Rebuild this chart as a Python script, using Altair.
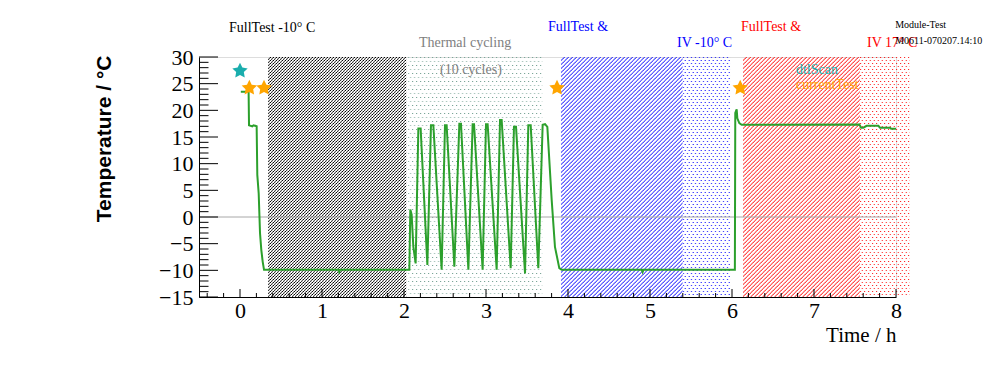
import math
import base64
import altair as alt
import pandas as pd

# ---------------- data ----------------
# green temperature trace (time in hours, temperature in deg C)
time_h = [0.01, 0.105, 0.11, 0.150, 0.165, 0.203, 0.211, 0.228, 0.244, 0.260, 0.277, 0.293,
          1.20, 1.21, 1.22, 2.065,
          2.077, 2.093, 2.114, 2.142,
          2.175, 2.203, 2.285,
          2.329, 2.358, 2.459,
          2.500, 2.520, 2.614,
          2.675, 2.695, 2.785,
          2.837, 2.854, 2.959,
          3.000, 3.020, 3.130,
          3.171, 3.191, 3.301,
          3.341, 3.366, 3.476,
          3.516, 3.545, 3.638,
          3.691, 3.720, 3.748, 3.801, 3.841, 3.894, 3.923,
          4.90, 4.91, 4.92, 6.035,
          6.040, 6.057, 6.065, 6.089, 6.118,
          7.553, 7.575, 7.602, 7.642, 7.785, 7.805, 7.927, 7.940, 8.0]
temp_c = [23.5, 23.5, 17.2, 17.0, 17.2, 17.0, 7.9, 4.4, -3.0, -6.2, -8.4, -9.9,
          -9.9, -10.3, -9.9, -9.9,
          1.4, 0.5, -5.6, -8.7,
          16.6, 16.6, -9.0,
          17.2, 17.2, -9.9,
          17.2, 17.2, -9.3,
          17.5, 17.5, -9.9,
          17.4, 17.4, -9.9,
          17.4, 17.4, -9.9,
          18.2, 18.2, -9.6,
          16.9, 16.9, -10.6,
          17.2, 17.2, -9.6,
          17.3, 17.4, 16.9, 3.2, -5.6, -9.6, -9.9,
          -9.9, -10.3, -9.9, -9.9,
          19.5, 20.2, 18.5, 17.6, 17.3,
          17.35, 16.75, 16.75, 17.1, 17.1, 16.75, 16.75, 16.55, 16.55]

# test markers (stars)
star_time = [0.0, 0.114, 0.293, 3.866, 6.10]
star_temp = [27.4, 24.2, 24.2, 24.2, 24.2]
star_test = ["dtlScan", "currentTest", "currentTest", "currentTest", "currentTest"]

# shaded phases (hours)
phase_name = ["FullTest -10", "Thermal cycling", "FullTest IV -10", "IV -10 tail", "FullTest IV 17", "IV 17 tail"]
phase_start = [0.34, 2.05, 3.91, 5.40, 6.13, 7.56]
phase_end = [2.03, 3.69, 5.40, 5.98, 7.56, 8.17]

# tick values
y_major = [-15, -10, -5, 0, 5, 10, 15, 20, 25, 30]
y_minor = [v for v in range(-15, 31) if v % 5 != 0]
x_major = [0, 1, 2, 3, 4, 5, 6, 7, 8]
x_minor = [round(-0.4 + 0.2 * i, 1) for i in range(43)
           if abs((-0.4 + 0.2 * i) - round(-0.4 + 0.2 * i)) > 1e-6]

# annotation texts
ann_text = ["FullTest -10° C", "Thermal cycling", "(10 cycles)", "FullTest &", "IV -10° C",
            "FullTest &", "IV 17° C", "Module-Test", "M0611-070207.14:10", "dtlScan", "currentTest"]
ann_time = [-0.134, 2.183, 2.439, 3.756, 5.329, 6.11, 7.646, 7.99, 7.99, 6.78, 6.78]
ann_temp = [35.4, 32.6, 27.6, 35.6, 32.6, 35.6, 32.6, 36.0, 33.0, 27.6, 24.8]


# ---------------- styles ----------------
def pattern(color, tile, cells):
    rects = "".join(
        f'<rect x="{cx}" y="{cy}" width="1" height="1" fill="{color}"/>' for cx, cy in cells
    )
    svg = (
        '<svg xmlns="http://www.w3.org/2000/svg" width="100%" height="100%">'
        f'<defs><pattern id="p" x="0" y="0" width="{tile[0]}" height="{tile[1]}" '
        f'patternUnits="userSpaceOnUse">{rects}</pattern></defs>'
        '<rect x="0" y="0" width="100%" height="100%" fill="url(#p)"/></svg>'
    )
    return "data:image/svg+xml;base64," + base64.b64encode(svg.encode()).decode()


hatch3 = [(2, 0), (1, 1), (0, 2)]
hatch4 = [(3, 0), (2, 1), (1, 2), (0, 3)]
dots_a = [(0, 0), (2, 3)]
dots_b = [(0, 0), (2, 4)]
phase_style = {
    "FullTest -10": pattern("#000000", (3, 3), hatch3),
    "Thermal cycling": pattern("#7aa698", (4, 8), dots_b),
    "FullTest IV -10": pattern("#0000ff", (4, 4), hatch4),
    "IV -10 tail": pattern("#0000ff", (4, 6), dots_a),
    "FullTest IV 17": pattern("#ff0000", (4, 4), hatch4),
    "IV 17 tail": pattern("#ff0000", (4, 6), dots_a),
}
ann_color = ["#000000", "#808080", "#808080", "#0000ff", "#0000ff", "#ff0000", "#ff0000",
             "#000000", "#000000", "#1aadad", "#ffa500"]
ann_size = [14, 14, 14, 14, 14, 14, 14, 10, 10, 14, 14]
star_colors = {"dtlScan": "#1aadad", "currentTest": "#ffa500"}

pts = []
for k in range(10):
    r = 1.0 if k % 2 == 0 else 0.5
    a = math.radians(-90 + 36 * k)
    pts.append(f"{r * math.cos(a):.3f},{r * math.sin(a):.3f}")
STAR = "M" + " L".join(pts) + " Z"

W, H = 697, 240
SERIF = "Liberation Serif"

xs = alt.Scale(domain=[-0.5, 8], nice=False, zero=False)
ys = alt.Scale(domain=[-15, 30], nice=False, zero=False)

# ---------------- tables ----------------
trace = pd.DataFrame({"t": time_h, "T": temp_c})
stars = pd.DataFrame({"t": star_time, "T": star_temp, "test": star_test})
stars["color"] = stars["test"].map(star_colors)
phases = pd.DataFrame({"name": phase_name, "start": phase_start, "end": phase_end})
phases["img"] = phases["name"].map(phase_style)
ann = pd.DataFrame({"text": ann_text, "t": ann_time, "T": ann_temp, "color": ann_color, "fs": ann_size})

x_axis = alt.Axis(values=x_major, ticks=False, grid=False, domainColor="black",
                  labelFont=SERIF, labelFontSize=22, labelColor="black", labelPadding=3,
                  labelFlush=False, labelOverlap=False,
                  title="Time / h", titleFont=SERIF, titleFontSize=21, titleFontWeight="normal",
                  titleColor="black", titleX=W, titleY=38, titleAlign="right",
                  titleBaseline="middle", zindex=2)
y_axis = alt.Axis(values=y_major, ticks=False, grid=False, domainColor="black",
                  labelFont=SERIF, labelFontSize=22, labelColor="black", labelPadding=6,
                  labelFlush=False, labelOverlap=False,
                  title="Temperature / °C", titleFont="Liberation Sans", titleFontSize=21,
                  titleFontWeight="bold", titleColor="black", titleAngle=270,
                  titleX=-95, titleY=-2, titleAlign="right", titleBaseline="middle", zindex=2)


def X(field):
    return alt.X(field, scale=xs, axis=x_axis)


def Y(field):
    return alt.Y(field, scale=ys, axis=y_axis)


shade = alt.Chart(phases).mark_image(aspect=False).encode(
    x=X("start:Q"),
    x2="end:Q",
    y=alt.value(0), y2=alt.value(H),
    url="img:N",
)

zero = alt.Chart(pd.DataFrame({"v": [0]})).mark_rule(color="#a8a8a8", strokeWidth=1).encode(
    y=Y("v:Q")
)

ytick_major = alt.Chart(pd.DataFrame({"v": y_major})).mark_rule(color="black", strokeWidth=1).encode(
    y=Y("v:Q"), x=alt.value(0), x2=alt.value(19))
ytick_minor = alt.Chart(pd.DataFrame({"v": y_minor})).mark_rule(color="black", strokeWidth=1).encode(
    y=Y("v:Q"), x=alt.value(0), x2=alt.value(9.5))
xtick_major = alt.Chart(pd.DataFrame({"v": x_major})).mark_rule(color="black", strokeWidth=1).encode(
    x=X("v:Q"), y=alt.value(H), y2=alt.value(H - 8))
xtick_minor = alt.Chart(pd.DataFrame({"v": x_minor})).mark_rule(color="black", strokeWidth=1).encode(
    x=X("v:Q"), y=alt.value(H), y2=alt.value(H - 4))

line = alt.Chart(trace).mark_line(color="#2ca02c", strokeWidth=2).encode(
    x=X("t:Q"),
    y=Y("T:Q"),
    order="t:Q",
)

star_layer = alt.Chart(stars).mark_point(shape=STAR, filled=True, size=260, opacity=1).encode(
    x=X("t:Q"),
    y=Y("T:Q"),
    color=alt.Color("color:N", scale=None),
)

text_layer = alt.Chart(ann).mark_text(align="left", baseline="middle", font=SERIF).encode(
    x=X("t:Q"),
    y=Y("T:Q"),
    text="text:N",
    color=alt.Color("color:N", scale=None),
    size=alt.Size("fs:Q", scale=None),
)

chart = alt.layer(
    shade, zero, ytick_major, ytick_minor, xtick_major, xtick_minor, line, star_layer, text_layer
).properties(
    width=W, height=H,
    autosize=alt.AutoSizeParams(type="none"),
    padding={"left": 191, "top": 49, "right": 92, "bottom": 67},
).configure_view(stroke="black", strokeWidth=1).configure(background="white")

chart.save("out.html", embed_options={"renderer": "svg", "actions": False})
